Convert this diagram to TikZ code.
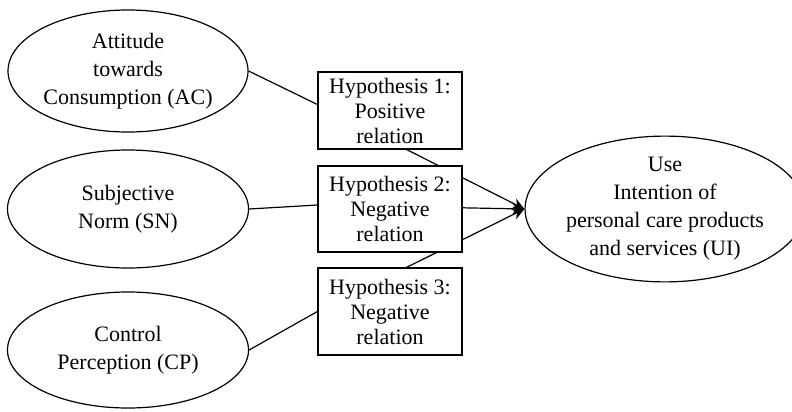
\documentclass[tikz,border=0pt]{standalone}
\usepackage{fontspec}
\setmainfont{Liberation Serif}
\usetikzlibrary{shapes.geometric,arrows.meta,backgrounds}

\begin{document}
\begin{tikzpicture}[x=0.5pt,y=-0.5pt]
        \tikzstyle{construct} = [draw, ellipse, line width=0.6pt, align=center, inner sep=0pt, font=\fontsize{11}{14}\selectfont]
        \tikzstyle{hyp} = [draw, rectangle, line width=0.6pt, fill=white, align=center, minimum width=72pt, inner sep=0pt, font=\fontsize{11}{12.5}\selectfont]
        \tikzstyle{link} = [line width=0.6pt]
        \tikzstyle{effect} = [line width=0.6pt, -{Stealth[length=6pt,width=5.5pt]}]
        \useasboundingbox (0,0) rectangle (792,412);
        % constructs
        \node (ac) [construct, minimum width=120pt, minimum height=61pt] at (128,71) {Attitude\\towards\\Consumption (AC)};
        \node (sn) [construct, minimum width=120.5pt, minimum height=59pt] at (128,209) {Subjective\\Norm (SN)};
        \node (cp) [construct, minimum width=120.5pt, minimum height=58pt] at (128,350) {Control\\Perception (CP)};
        \node (ui) [construct, minimum width=127pt, minimum height=66pt] at (665,209) {Use\\Intention of\\personal care products\\and services (UI)};
        % hypotheses
        \node (h1) [hyp, minimum height=38.5pt] at (390,110.5) {Hypothesis 1:\\Positive\\relation};
        \node (h2) [hyp, minimum height=43pt] at (390,209) {Hypothesis 2:\\Negative\\relation};
        \node (h3) [hyp, minimum height=43.5pt] at (390,311.5) {Hypothesis 3:\\Negative\\relation};
        \coordinate (h1in) at ([yshift=3pt]h1.west);
        \coordinate (h2in) at ([yshift=2pt]h2.west);
        \coordinate (h3in) at (h3.west);
        \draw[link] (ac.east) -- (h1in);
        \draw[link] (sn.east) -- (h2in);
        \draw[link] (cp.east) -- (h3in);
        \begin{scope}[on background layer]
            \draw[effect] (h1in) -- (ui.west);
            \draw[effect] (h2in) -- (ui.west);
            \draw[effect] (h3in) -- (ui.west);
        \end{scope}
\end{tikzpicture}
\end{document}
